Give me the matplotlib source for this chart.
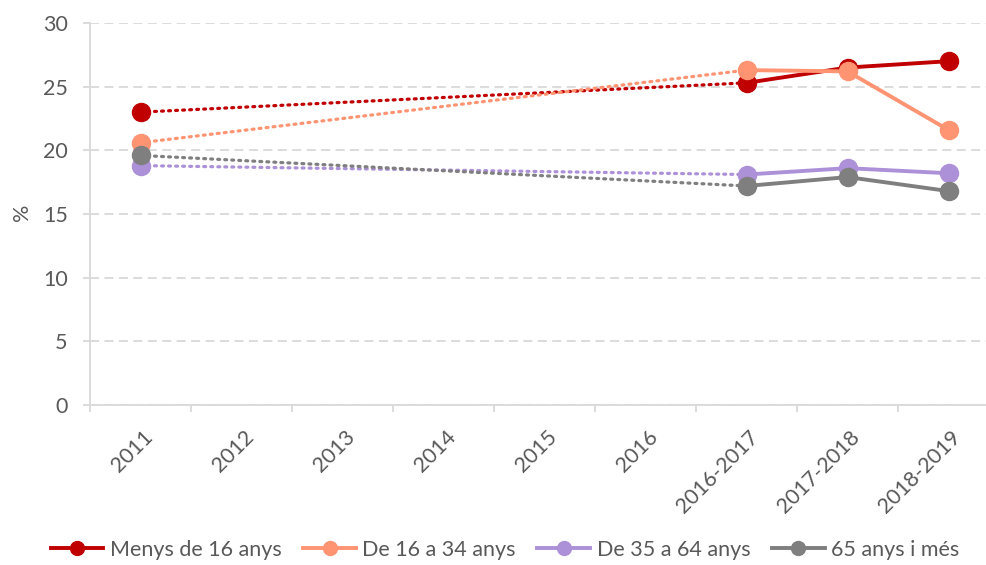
import matplotlib
matplotlib.use("Agg")
import matplotlib.pyplot as plt
from matplotlib.lines import Line2D
import matplotlib.transforms as mtrans
import numpy as np

categories = ["2011", "2012", "2013", "2014", "2015", "2016", "2016-2017", "2017-2018", "2018-2019"]
series_names = ["Menys de 16 anys", "De 16 a 34 anys", "De 35 a 64 anys", "65 anys i més"]
# values at 2011, 2016-2017, 2017-2018, 2018-2019 (no data in between)
idx_points = [0, 6, 7, 8]
menys16 = [23.0, 25.3, 26.5, 27.0]
de16a34 = [20.6, 26.3, 26.2, 21.6]
de35a64 = [18.8, 18.1, 18.6, 18.2]
mes65 = [19.6, 17.2, 17.9, 16.8]
colors = ["#C00000", "#FF9473", "#AD91D8", "#7F7F7F"]
y_ticks = [0, 5, 10, 15, 20, 25, 30]

plt.rcParams['font.family'] = ['Lato', 'DejaVu Sans']
FS = 15.5
W, H = 987, 565
fig = plt.figure(figsize=(W / 100, H / 100), dpi=100)
ax = fig.add_axes([90 / W, (H - 405) / H, 909 / W, 382 / H])

grid_c = "#D9D9D9"
text_c = "#595959"

for vals, col in zip([menys16, de16a34, de35a64, mes65], colors):
    x = idx_points
    ax.plot(x[:2], vals[:2], color=col, lw=2.3, linestyle=(0, (0.6, 1.6)),
            dash_capstyle='round', zorder=3)
    ax.plot(x[1:], vals[1:], color=col, lw=2.8, solid_capstyle='round', zorder=3)
    ax.plot(x, vals, linestyle='none', marker='o', markersize=13, color=col, zorder=4)

ax.set_xlim(-0.5, len(categories) - 0.5)
ax.set_ylim(0, 30)
ax.set_yticks(y_ticks)
ax.set_yticklabels([str(v) for v in y_ticks], fontsize=FS, color=text_c)
ax.yaxis.grid(True, color=grid_c, linestyle=(0, (5, 3)), lw=1.3)
ax.set_axisbelow(True)
ax.tick_params(axis='y', length=5, color=grid_c, width=1.3, pad=11)

ax.set_xticks(np.arange(len(categories) + 1) - 0.5)
ax.set_xticklabels([])
ax.tick_params(axis='x', length=5, color=grid_c, width=1.3)
ax.set_xticks(np.arange(len(categories)), minor=True)
ax.set_xticklabels(categories, minor=True, rotation=45, ha='right', va='center',
                   rotation_mode='anchor', fontsize=FS, color=text_c)
ax.tick_params(axis='x', which='minor', length=0, pad=21)
offset = mtrans.ScaledTranslation(9 / 100, 0, fig.dpi_scale_trans)
for lab in ax.get_xticklabels(minor=True):
    lab.set_transform(lab.get_transform() + offset)

for s in ['top', 'right']:
    ax.spines[s].set_visible(False)
for s in ['left', 'bottom']:
    ax.spines[s].set_color(grid_c)
    ax.spines[s].set_linewidth(1.3)

fig.text(22 / W, 1 - 212 / H, "%", rotation=90, fontsize=FS, color=text_c,
         ha='center', va='center')

handles = [Line2D([], [], color=c, lw=2.8, marker='o', markersize=10) for c in colors]
fig.legend(handles, series_names, loc='center', bbox_to_anchor=(505 / W, 1 - 550 / H),
           ncol=4, frameon=False, fontsize=FS, handlelength=2.45, handletextpad=0.3,
           columnspacing=1.0, labelcolor=text_c)

fig.savefig("out.png", dpi=100)
